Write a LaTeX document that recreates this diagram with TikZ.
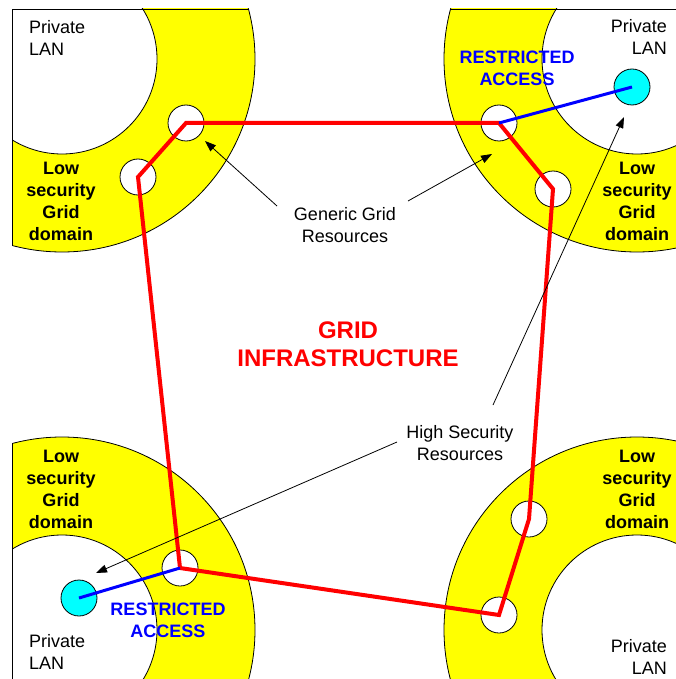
\documentclass[tikz,border=0pt]{standalone}
\usepackage{fontspec}
\setmainfont{Liberation Sans}
\usetikzlibrary{arrows.meta}
\definecolor{zoneyellow}{RGB}{255,255,0}
\definecolor{hostcyan}{RGB}{0,255,255}
\definecolor{gridred}{RGB}{255,0,0}
\definecolor{linkblue}{RGB}{0,0,255}
\begin{document}
\begin{tikzpicture}[x=1pt,y=-1pt,
  zone/.style={draw=black,line width=0.8pt,fill=zoneyellow},
  lan/.style={draw=black,line width=0.8pt,fill=white},
  edge/.style={draw=black,line width=0.8pt},
  res/.style={circle,draw=black,line width=0.8pt,fill=white,minimum size=36pt,inner sep=0pt},
  host/.style={circle,draw=black,line width=0.8pt,fill=hostcyan,minimum size=36pt,inner sep=0pt},
  gridline/.style={draw=gridred,line width=4pt},
  link/.style={draw=linkblue,line width=3pt},
  pointer/.style={draw=black,line width=0.8pt,-{Triangle[length=11pt,width=8pt]}},
  lbl/.style={font=\fontsize{18}{22}\selectfont,inner sep=0pt},
  lowlbl/.style={font=\fontsize{18}{22}\selectfont\bfseries,inner sep=0pt,align=center},
  rlbl/.style={font=\fontsize{18}{22}\selectfont\bfseries,inner sep=0pt,align=center,text=linkblue},
  biglbl/.style={font=\fontsize{24}{28}\selectfont\bfseries,inner sep=0pt,align=center,text=gridred}
]
\useasboundingbox (0,0) rectangle (675,679);

% top-left corner
\begin{scope}
  \clip (12,9) rectangle (400,400);
  \draw[zone] (62,59) circle[radius=193pt];
  \draw[lan] (62,59) circle[radius=95pt];
\end{scope}
\begin{scope}
  \clip (62,59) circle[radius=193pt];
  \draw[edge] (12,400) -- (12,9) -- (400,9);
\end{scope}
% top-right corner
\begin{scope}
  \clip (300,9) rectangle (687,400);
  \draw[zone] (637,59) circle[radius=193pt];
  \draw[lan] (637,59) circle[radius=95pt];
\end{scope}
\begin{scope}
  \clip (637,59) circle[radius=193pt];
  \draw[edge] (300,9) -- (687,9) -- (687,400);
\end{scope}
% bottom-left corner
\begin{scope}
  \clip (12,300) rectangle (400,681);
  \draw[zone] (62,630) circle[radius=193pt];
  \draw[lan] (62,630) circle[radius=95pt];
\end{scope}
\begin{scope}
  \clip (62,630) circle[radius=193pt];
  \draw[edge] (12,300) -- (12,681) -- (400,681);
\end{scope}
% bottom-right corner
\begin{scope}
  \clip (300,300) rectangle (687,681);
  \draw[zone] (637,630) circle[radius=193pt];
  \draw[lan] (637,630) circle[radius=95pt];
\end{scope}
\begin{scope}
  \clip (637,630) circle[radius=193pt];
  \draw[edge] (300,681) -- (687,681) -- (687,300);
\end{scope}

% resources
\node[res] (tl1) at (186,123) {};
\node[res] (tl2) at (138,177) {};
\node[res] (tr1) at (499,123) {};
\node[res] (tr2) at (553,189) {};
\node[res] (br1) at (529,519) {};
\node[res] (br2) at (499,615) {};
\node[res] (bl1) at (180,568) {};
\node[host] (trlan) at (632,87) {};
\node[host] (bllan) at (79,598) {};

% grid infrastructure
\draw[gridline] (tl1.center) -- (tr1.center) -- (tr2.center) -- (br1.center)
  -- (br2.center) -- (bl1.center) -- (tl2.center) -- cycle;
\draw[link] (tr1.center) -- (trlan.center);
\draw[link] (bl1.center) -- (bllan.center);

% labels
\node[lbl,align=left,anchor=west] (pl1) at (29,37.5) {Private\\LAN};
\node[lbl,align=right,anchor=east] (pl2) at (667,36.5) {Private\\LAN};
\node[lbl,align=left,anchor=west] (pl3) at (29,652) {Private\\LAN};
\node[lbl,align=right,anchor=east] (pl4) at (667,657) {Private\\LAN};
\node[lowlbl] (low1) at (61,201) {Low\\security\\Grid\\domain};
\node[lowlbl] (low2) at (637,201) {Low\\security\\Grid\\domain};
\node[lowlbl] (low3) at (61,489) {Low\\security\\Grid\\domain};
\node[lowlbl] (low4) at (637,489) {Low\\security\\Grid\\domain};
\node[rlbl] (ra1) at (517,68) {RESTRICTED\\ACCESS};
\node[rlbl] (ra2) at (168,620.5) {RESTRICTED\\ACCESS};
\node[biglbl] (infra) at (348,344.5) {GRID\\INFRASTRUCTURE};
\node[lbl,align=center] (generic) at (345,225) {Generic Grid\\Resources};
\node[lbl,align=center] (highsec) at (460,443) {High Security\\Resources};

% pointers
\coordinate (g1s) at (277,206);
\coordinate (g1t) at (205,141);
\coordinate (g2s) at (408,201);
\coordinate (g2t) at (492,154);
\coordinate (h1s) at (493,405);
\coordinate (h1t) at (624,117);
\coordinate (h2s) at (397,442);
\coordinate (h2t) at (96,573);
\draw[pointer] (g1s) -- (g1t);
\draw[pointer] (g2s) -- (g2t);
\draw[pointer] (h1s) -- (h1t);
\draw[pointer] (h2s) -- (h2t);
\end{tikzpicture}
\end{document}
